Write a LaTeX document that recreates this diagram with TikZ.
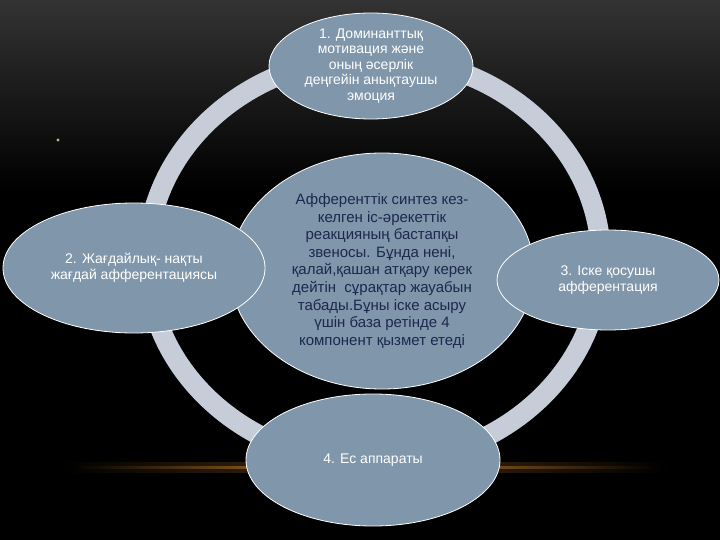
\documentclass[tikz,border=0pt]{standalone}
\usepackage{fontspec}
\setmainfont{Liberation Sans}
\usetikzlibrary{shapes.geometric}
\definecolor{bubble}{RGB}{128,150,170}
\definecolor{ringc}{RGB}{198,204,216}
\definecolor{navy}{RGB}{28,40,78}
\definecolor{glow}{RGB}{200,130,45}
\definecolor{dotc}{RGB}{200,180,140}
\begin{document}
\begin{tikzpicture}[x=1pt,y=-1pt,
  bub/.style={ellipse, draw=white, line width=0.8pt, fill=bubble, inner sep=0pt, align=center},
  wtxt/.style={text=white, font=\fontsize{14}{15.5}\selectfont},
  ctxt/.style={text=navy, font=\fontsize{15}{17.6}\selectfont}]
\useasboundingbox (0,0) rectangle (720,540);
\fill[black] (0,0) rectangle (720,540);
\shade[top color=black!80, bottom color=black] (0,0) rectangle (720,190);
% glow line
\shade[left color=black, right color=black, middle color=glow!35!black] (60,462) rectangle (670,472);
\shade[left color=black, right color=black, middle color=glow] (70,466) rectangle (660,468.5);
% bullet dot
\fill[dotc] (58,140) circle (1.6);
% ring
\draw[ringc, line width=20pt] (374,260) ellipse [x radius=227, y radius=203];
% center
\node[bub, ctxt, minimum width=304, minimum height=236] (mid) at (382,271)
  {Афференттік синтез кез-\\келген іс-әрекеттік\\реакцияның бастапқы\\звеносы. Бұнда нені,\\қалай,қашан атқару керек\\дейтін \ сұрақтар жауабын\\табады.Бұны іске асыру\\үшін база ретінде 4\\компонент қызмет етеді};
% outer bubbles
\node[bub, wtxt, minimum width=204, minimum height=106] (top) at (371,66)
  {1. Доминанттық\\мотивация және\\оның әсерлік\\деңгейін анықтаушы\\эмоция};
\node[bub, wtxt, minimum width=262, minimum height=130] (left) at (134,268)
  {2. Жағдайлық- нақты\\жағдай афферентациясы};
\node[bub, wtxt, minimum width=222, minimum height=100] (right) at (608,280)
  {3. Іске қосушы\\афферентация};
\node[bub, wtxt, minimum width=254, minimum height=132] (bottom) at (373,460)
  {4. Ес аппараты};
\end{tikzpicture}
\end{document}
